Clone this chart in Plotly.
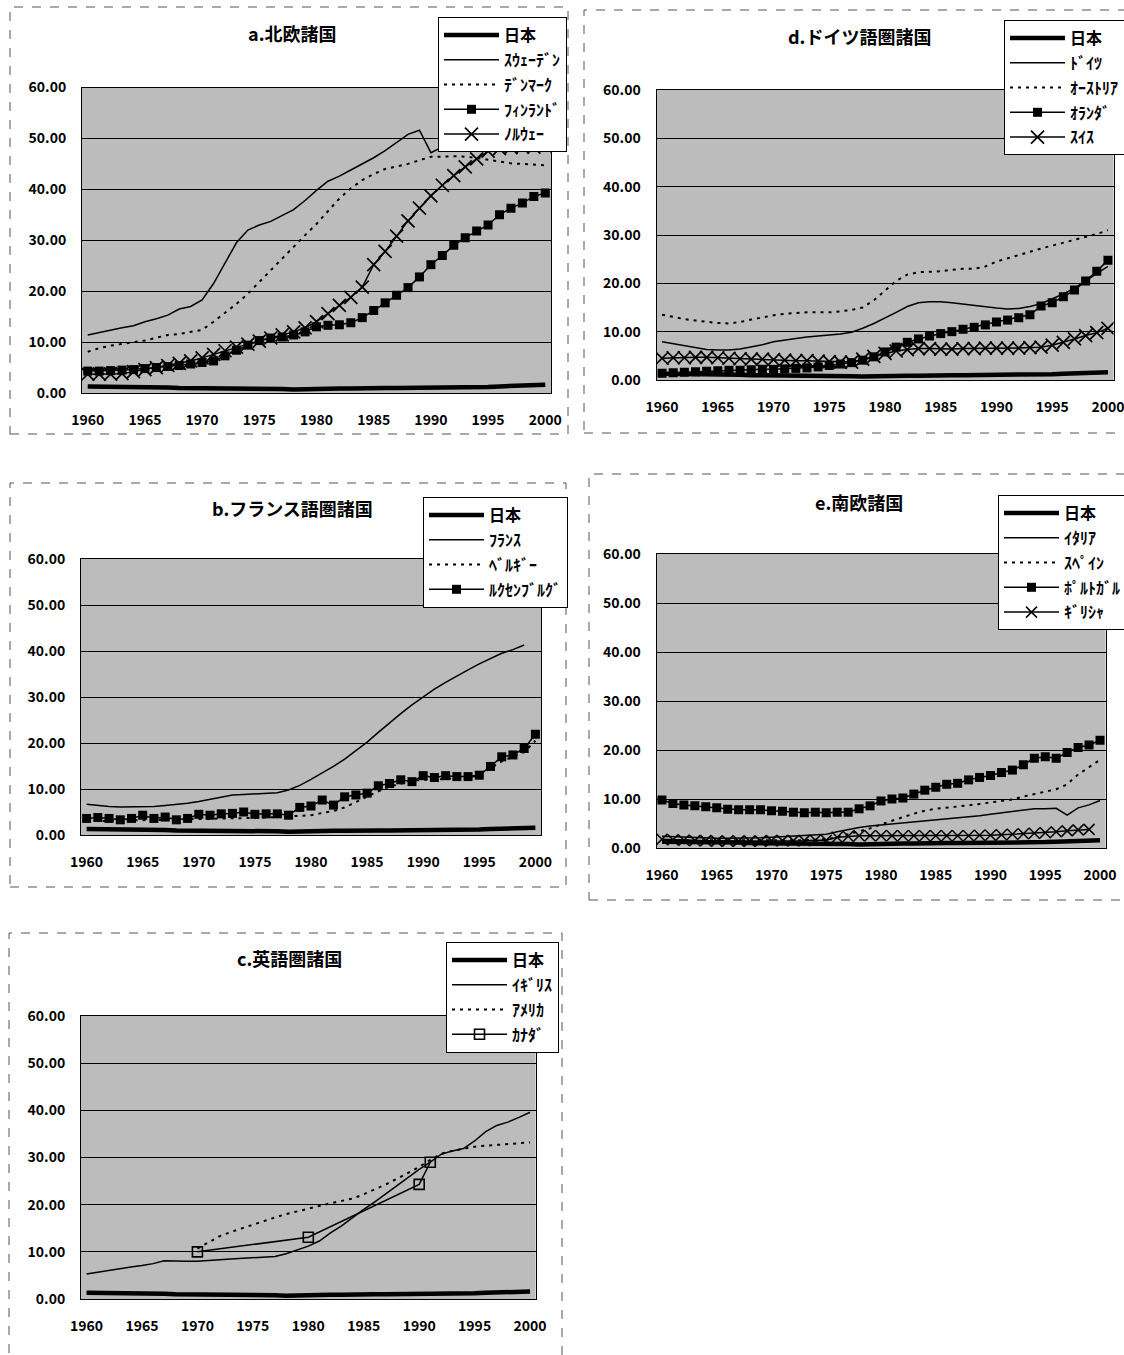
import plotly.graph_objects as go

W, H = 1124, 1355
years = list(range(1960, 2001))

# ---------------- data ----------------
japan = [1.3, 1.3, 1.2, 1.2, 1.2, 1.1, 1.1, 1.1, 1.0, 1.0,
         1.0, 0.9, 0.9, 0.9, 0.9, 0.8, 0.8, 0.8, 0.7, 0.8,
         0.8, 0.9, 0.9, 0.9, 1.0, 1.0, 1.0, 1.0, 1.0, 1.1,
         1.1, 1.1, 1.1, 1.2, 1.2, 1.2, 1.3, 1.4, 1.5, 1.6, 1.6]

# a. Nordic
sweden = [11.4, 11.9, 12.4, 12.8, 13.2, 14.0, 14.6, 15.3, 16.5, 17.0,
          18.3, 21.5, 25.5, 29.5, 32.0, 33.0, 33.7, 34.8, 36.0, 37.8,
          39.8, 41.6, 42.6, 43.8, 45.0, 46.2, 47.6, 49.2, 50.8, 51.6,
          47.2, 48.3, 49.6, 50.5, 51.0, 51.5, 52.0, 52.4, 52.8, 53.2, 53.6]
denmark = [8.1, 8.8, 9.3, 9.7, 10.0, 10.3, 10.8, 11.4, 11.6, 12.0,
           12.4, 14.0, 15.8, 17.5, 19.5, 21.8, 24.3, 26.6, 28.8, 31.0,
           33.2, 35.8, 38.2, 40.2, 41.8, 43.0, 44.0, 44.5, 45.0, 45.7,
           46.4, 46.4, 46.5, 46.4, 46.2, 45.8, 45.4, 45.1, 45.0, 44.8, 44.7]
finland = [4.3, 4.3, 4.4, 4.5, 4.6, 4.8, 5.0, 5.2, 5.4, 5.7,
           6.0, 6.3, 7.3, 8.4, 9.4, 10.3, 10.8, 11.0, 11.4, 12.0,
           13.0, 13.3, 13.4, 13.8, 14.8, 16.2, 17.7, 19.2, 20.7, 22.8,
           25.2, 27.0, 29.0, 30.5, 31.8, 33.0, 35.0, 36.3, 37.3, 38.6, 39.3]
norway = [3.7, 3.7, 3.7, 3.8, 4.2, 4.6, 5.0, 5.4, 5.8, 6.3,
          6.9, 7.6, 8.3, 9.0, 9.6, 10.2, 10.8, 11.4, 12.0, 12.8,
          14.0, 15.6, 17.2, 18.8, 20.8, 25.2, 27.8, 30.8, 33.8, 36.3,
          38.7, 40.8, 42.7, 44.4, 46.0, 47.5, 48.0, 48.2, 48.3, 48.3, 48.5]

# d. German-speaking
germany = [7.9, 7.5, 7.0, 6.6, 6.3, 6.2, 6.2, 6.4, 6.8, 7.3,
           7.9, 8.3, 8.6, 8.9, 9.1, 9.2, 9.5, 9.9, 10.7, 11.7,
           12.8, 14.0, 15.2, 16.0, 16.2, 16.2, 16.0, 15.7, 15.4, 15.1,
           14.9, 14.7, 14.8, 15.2, 15.8, 16.8, 17.8, 19.0, 20.5, 22.0, 23.5]
austria = [13.5, 13.0, 12.6, 12.3, 12.0, 11.8, 11.7, 12.0, 12.5, 13.0,
           13.4, 13.7, 13.9, 14.0, 14.0, 14.0, 14.2, 14.5, 15.0, 16.5,
           18.5, 20.5, 21.8, 22.3, 22.4, 22.5, 22.8, 23.0, 23.0, 23.5,
           24.5, 25.2, 25.8, 26.5, 27.2, 27.8, 28.4, 29.0, 29.6, 30.2, 31.0]
netherlands = [1.4, 1.5, 1.6, 1.7, 1.8, 1.9, 2.0, 2.0, 2.1, 2.2,
               2.2, 2.3, 2.4, 2.5, 2.7, 3.0, 3.3, 3.6, 4.1, 4.8,
               5.8, 6.8, 7.8, 8.5, 9.1, 9.6, 10.0, 10.5, 10.9, 11.4,
               12.0, 12.4, 12.9, 13.5, 15.3, 16.0, 17.2, 18.6, 20.5, 22.5, 24.8]
switzerland = [4.5, 4.6, 4.6, 4.7, 4.7, 4.6, 4.5, 4.4, 4.3, 4.3,
               4.2, 4.1, 4.0, 4.0, 3.9, 3.8, 3.7, 3.7, 4.3, 4.9,
               5.5, 6.0, 6.3, 6.5, 6.5, 6.4, 6.4, 6.5, 6.5, 6.6,
               6.6, 6.6, 6.6, 6.7, 6.8, 7.2, 7.8, 8.5, 9.2, 9.8, 10.7]

# b. French-speaking
france = [6.7, 6.4, 6.2, 6.1, 6.1, 6.1, 6.2, 6.4, 6.6, 6.9,
          7.3, 7.8, 8.3, 8.7, 8.8, 8.9, 9.0, 9.2, 9.8, 10.8,
          12.1, 13.5, 14.9, 16.5, 18.3, 20.2, 22.3, 24.4, 26.4, 28.3,
          30.1, 31.7, 33.2, 34.6, 35.9, 37.2, 38.4, 39.5, 40.3, 41.3, None]
belgium = [3.0, 3.0, 3.1, 3.1, 3.2, 3.2, 3.3, 3.3, 3.4, 3.4,
           3.5, 3.5, 3.6, 3.6, 3.7, 3.7, 3.8, 3.9, 4.0, 4.1,
           4.3, 4.8, 5.2, 6.0, 7.2, 8.3, 9.5, 10.5, 11.2, 11.8,
           12.0, 12.0, 12.2, 12.3, 12.5, 13.0, 14.5, 16.0, 17.0, 18.0, 20.5]
luxembourg = [3.6, 3.8, 3.6, 3.3, 3.6, 4.3, 3.6, 3.9, 3.3, 3.6,
              4.5, 4.3, 4.6, 4.7, 5.0, 4.5, 4.6, 4.6, 4.3, 6.0,
              6.3, 7.6, 6.5, 8.3, 8.7, 9.1, 10.7, 11.2, 12.0, 11.6,
              12.9, 12.5, 12.9, 12.7, 12.7, 13.0, 14.9, 17.0, 17.4, 18.8, 21.9]

# e. Southern Europe
italy = [2.4, 2.3, 2.2, 2.1, 2.0, 2.0, 2.0, 2.0, 2.1, 2.1,
         2.2, 2.3, 2.4, 2.5, 2.6, 2.8, 3.3, 3.8, 4.2, 4.5,
         4.7, 4.9, 5.1, 5.3, 5.5, 5.8, 6.0, 6.2, 6.4, 6.6,
         6.9, 7.2, 7.4, 7.7, 8.0, 8.0, 8.1, 6.7, 8.2, 8.8, 9.7]
spain = [1.6, 1.6, 1.5, 1.5, 1.5, 1.5, 1.5, 1.5, 1.5, 1.5,
         1.5, 1.5, 1.6, 1.6, 1.7, 1.8, 2.2, 2.8, 3.4, 4.0,
         4.8, 5.6, 6.3, 7.0, 7.6, 8.0, 8.2, 8.4, 8.7, 9.0,
         9.3, 9.6, 9.9, 10.5, 11.0, 11.5, 12.0, 13.0, 15.0, 16.5, 18.0]
portugal = [9.8, 9.1, 8.8, 8.6, 8.4, 8.2, 7.9, 7.8, 7.8, 7.8,
            7.6, 7.5, 7.3, 7.2, 7.3, 7.2, 7.3, 7.3, 8.0, 8.6,
            9.6, 10.0, 10.2, 11.0, 11.8, 12.4, 13.0, 13.2, 13.9, 14.4,
            14.8, 15.4, 15.9, 17.0, 18.3, 18.6, 18.3, 19.5, 20.5, 21.0, 22.0]
greece = [1.8, 1.7, 1.6, 1.5, 1.5, 1.4, 1.4, 1.4, 1.4, 1.4,
          1.5, 1.5, 1.5, 1.5, 1.6, 1.6, 2.2, 2.4, 2.5, 2.5,
          2.5, 2.5, 2.5, 2.5, 2.5, 2.5, 2.5, 2.5, 2.5, 2.6,
          2.6, 2.7, 2.8, 2.9, 3.0, 3.1, 3.3, 3.5, 3.7, 3.8, None]

# c. English-speaking
uk = [5.3, 5.7, 6.1, 6.4, 6.8, 7.1, 7.5, 8.1, 8.0, 8.0,
      8.0, 8.1, 8.3, 8.5, 8.6, 8.7, 8.8, 9.0, 9.6, 10.4,
      11.2, 12.3, 14.0, 15.5, 17.3, 19.0, 20.6, 22.3, 24.0, 25.8,
      27.5, 29.0, 30.7, 31.4, 31.9, 33.5, 35.5, 36.8, 37.5, 38.5, 39.6]
usa = [None] * 10 + [
      10.7, 12.0, 13.3, 14.2, 15.0, 15.8, 16.6, 17.3, 18.0, 18.6,
      19.2, 19.8, 20.3, 20.8, 21.3, 22.2, 23.2, 24.3, 25.5, 26.8,
      28.0, 29.5, 30.8, 31.4, 31.8, 32.3, 32.5, 32.7, 32.8, 33.0, 33.2]
canada_years = [1970, 1980, 1990, 1991]
canada = [10.0, 13.1, 24.3, 29.0]

y_ticks = [0, 10, 20, 30, 40, 50, 60]
x_ticks = [1960, 1965, 1970, 1975, 1980, 1985, 1990, 1995, 2000]

titles = ["a.北欧諸国", "d.ドイツ語圏諸国", "b.フランス語圏諸国", "e.南欧諸国", "c.英語圏諸国"]

# ---------------- styling helpers ----------------
FONT = "Noto Sans CJK JP"
BG = "#bcbcbc"

def fx(px):
    return px / W

def fy(py):
    return 1 - py / H

STYLE = {
    "japan": dict(mode="lines", line=dict(color="black", width=4.5)),
    "solid": dict(mode="lines", line=dict(color="black", width=1.5)),
    "dot": dict(mode="lines", line=dict(color="black", width=2, dash="3px,5px")),
    "square": dict(mode="lines+markers", line=dict(color="black", width=1.5),
                   marker=dict(symbol="square", size=9, color="black")),
    "x": dict(mode="lines+markers", line=dict(color="black", width=1.5),
              marker=dict(symbol="x-thin", size=13, color="black",
                          line=dict(color="black", width=1.7))),
    "xs": dict(mode="lines+markers", line=dict(color="black", width=1.5),
               marker=dict(symbol="x-thin", size=11, color="black",
                           line=dict(color="black", width=1.5))),
    "open": dict(mode="lines+markers", line=dict(color="black", width=1.5),
                 marker=dict(symbol="square-open", size=10, color="black",
                             line=dict(color="black", width=1.6))),
}

panels = [
    dict(box=(82, 87.5, 551, 393), leg=(438, 17), title=(292, 33), frame=(10, 7, 568, 434),
         series=[("日本", years, japan, "japan"), ("ｽｳｪｰﾃﾞﾝ", years, sweden, "solid"),
                 ("ﾃﾞﾝﾏｰｸ", years, denmark, "dot"), ("ﾌｨﾝﾗﾝﾄﾞ", years, finland, "square"),
                 ("ﾉﾙｳｪｰ", years, norway, "x")]),
    dict(box=(656.5, 90, 1113.5, 380), leg=(1004, 20), title=(859, 36), frame=(584, 10, 1130, 433),
         series=[("日本", years, japan, "japan"), ("ﾄﾞｲﾂ", years, germany, "solid"),
                 ("ｵｰｽﾄﾘｱ", years, austria, "dot"), ("ｵﾗﾝﾀﾞ", years, netherlands, "square"),
                 ("ｽｲｽ", years, switzerland, "x")]),
    dict(box=(81, 559, 541, 835), leg=(423, 497), title=(292, 508), frame=(10, 483, 566, 887),
         series=[("日本", years, japan, "japan"), ("ﾌﾗﾝｽ", years, france, "solid"),
                 ("ﾍﾞﾙｷﾞｰ", years, belgium, "dot"), ("ﾙｸｾﾝﾌﾞﾙｸﾞ", years, luxembourg, "square")]),
    dict(box=(656.5, 554, 1105.5, 848), leg=(998, 495), title=(859, 502), frame=(589, 474, 1130, 900),
         series=[("日本", years, japan, "japan"), ("ｲﾀﾘｱ", years, italy, "solid"),
                 ("ｽﾍﾟｲﾝ", years, spain, "dot"), ("ﾎﾟﾙﾄｶﾞﾙ", years, portugal, "square"),
                 ("ｷﾞﾘｼｬ", years, greece, "xs")]),
    dict(box=(81, 1016, 535.6, 1299), leg=(446, 942), title=(289, 958), frame=(9, 933, 562, 1360),
         series=[("日本", years, japan, "japan"), ("ｲｷﾞﾘｽ", years, uk, "solid"),
                 ("ｱﾒﾘｶ", years, usa, "dot"), ("ｶﾅﾀﾞ", canada_years, canada, "open")]),
]

fig = go.Figure()
layout = dict(
    width=W, height=H, margin=dict(l=0, r=0, t=0, b=0, autoexpand=False),
    paper_bgcolor="white", plot_bgcolor=BG,
    font=dict(family=FONT, color="black", size=13),
    annotations=[], shapes=[],
)

for i, p in enumerate(panels):
    n = i + 1
    xa = "x" if n == 1 else f"x{n}"
    ya = "y" if n == 1 else f"y{n}"
    leg = "legend" if n == 1 else f"legend{n}"
    x0, y0, x1, y1 = p["box"]
    for name, xs, ys, kind in p["series"]:
        st = STYLE[kind]
        fig.add_trace(go.Scatter(x=xs, y=ys, name=name, xaxis=xa, yaxis=ya,
                                 legend=leg, legendgroup=f"{n}-{name}",
                                 connectgaps=True, showlegend=True, **st))
    xkey = "xaxis" if n == 1 else f"xaxis{n}"
    ykey = "yaxis" if n == 1 else f"yaxis{n}"
    layout[xkey] = dict(domain=[fx(x0), fx(x1)], range=[1959.5, 2000.5], anchor=ya,
                        tickvals=x_ticks, tickangle=0, showgrid=False, zeroline=False,
                        showline=True, mirror=True, linecolor="black", linewidth=1,
                        ticks="", ticklabelstandoff=14, automargin=False,
                        ticklabeloverflow="allow",
                        tickfont=dict(family=FONT, size=14, weight="bold"))
    layout[ykey] = dict(domain=[fy(y1), fy(y0)], range=[0, 60], anchor=xa,
                        tickvals=y_ticks, tickformat=".2f",
                        showgrid=True, gridcolor="black", gridwidth=1, zeroline=False,
                        showline=True, mirror=True, linecolor="black", linewidth=1,
                        ticks="", ticklabelstandoff=12, automargin=False,
                        tickfont=dict(family=FONT, size=14, weight="bold"))
    lx, ly = p["leg"]
    layout[leg] = dict(xref="container", yref="container", x=fx(lx), y=fy(ly),
                       xanchor="left", yanchor="top", bgcolor="white",
                       bordercolor="black", borderwidth=1, itemwidth=55,
                       tracegroupgap=1, traceorder="grouped",
                       font=dict(family=FONT, size=16, weight="bold"),
                       itemclick=False, itemdoubleclick=False)
    tx, ty = p["title"]
    layout["annotations"].append(dict(text=titles[i], xref="paper", yref="paper",
                                      x=fx(tx), y=fy(ty), xanchor="center", yanchor="middle",
                                      showarrow=False,
                                      font=dict(family=FONT, size=18, weight="bold")))
    fx0, fy0, fx1, fy1 = p["frame"]
    layout["shapes"].append(dict(type="rect", xref="paper", yref="paper",
                                 x0=fx(fx0), x1=fx(fx1), y0=fy(fy1), y1=fy(fy0),
                                 line=dict(color="#555", width=1, dash="dash"),
                                 layer="below"))

fig.update_layout(**layout)
fig.write_html("out.html")
